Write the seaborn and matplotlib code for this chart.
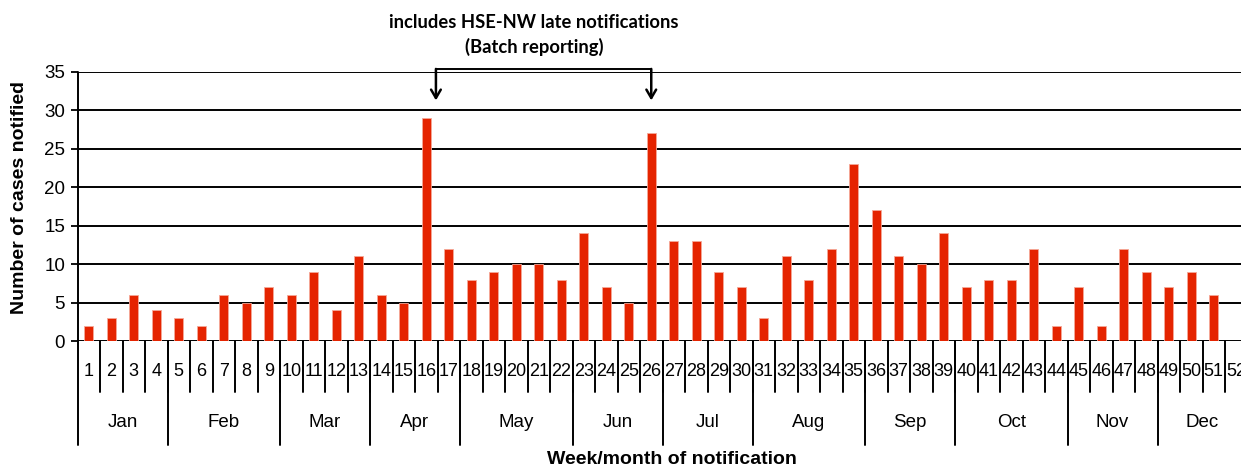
import matplotlib
matplotlib.use("Agg")
import matplotlib.pyplot as plt
import seaborn as sns
import pandas as pd

weeks = list(range(1, 53))
cases = [2, 3, 6, 4, 3, 2, 6, 5, 7, 6, 9, 4, 11, 6, 5, 29, 12, 8, 9, 10,
         10, 8, 14, 7, 5, 27, 13, 13, 9, 7, 3, 11, 8, 12, 23, 17, 11, 10, 14, 7,
         8, 8, 12, 2, 7, 2, 12, 9, 7, 9, 6, 0]
months = ["Jan", "Feb", "Mar", "Apr", "May", "Jun", "Jul", "Aug", "Sep", "Oct", "Nov", "Dec"]
month_last_week = [4, 9, 13, 17, 22, 26, 30, 35, 39, 44, 48, 52]
y_ticks = [0, 5, 10, 15, 20, 25, 30, 35]
batch_weeks = [16, 26]
note_lines = ["includes HSE-NW late notifications", "(Batch reporting)"]

sns.set_style("white")
plt.rcParams["font.family"] = ["Liberation Sans", "DejaVu Sans"]
plt.rcParams["text.color"] = "black"
plt.rcParams["axes.labelcolor"] = "black"
plt.rcParams["xtick.color"] = "black"
plt.rcParams["ytick.color"] = "black"

df = pd.DataFrame({"week": [str(w) for w in weeks], "cases": cases})

fig = plt.figure(figsize=(12.41, 4.68), dpi=100)
W, H = 1241, 468
left_px, right_px, top_px, bot_px = 77.5, 77.5 + 52 * 22.5, 72, 341
ax = fig.add_axes([left_px / W, 1 - bot_px / H, (right_px - left_px) / W, (bot_px - top_px) / H])

sns.barplot(data=df, x="week", y="cases", color="#e52400", width=0.4,
            saturation=1, ax=ax, zorder=3, edgecolor="#f5a898", linewidth=0.6)

ax.set_xlim(-0.5, 51.5)
ax.set_ylim(0, 35)
ax.set_yticks(y_ticks)
ax.set_yticklabels([str(t) for t in y_ticks], fontsize=13.5, color="black")
ax.tick_params(axis="y", length=5, width=1.3, color="black", pad=4, left=True)
ax.set_xticks([])
ax.set_xlabel("")
ax.set_ylabel("")

for y in y_ticks:
    ax.axhline(y, color="black", lw=1.4, zorder=1)

for s in ["top", "right", "bottom", "left"]:
    ax.spines[s].set_visible(False)

fig.text(19.5 / W, 1 - 198 / H, "Number of cases notified", rotation=90, ha="center",
         va="center", fontsize=14, fontweight="bold", color="black")

trans = ax.get_xaxis_transform()
ax.plot([-0.5, -0.5], [1.0, -0.3866], transform=trans, color="black", lw=1.4, clip_on=False)
for i in range(len(weeks)):
    xb = i + 0.5
    ax.plot([xb, xb], [0, -0.1896], transform=trans, color="black", lw=1.4, clip_on=False)
    ax.text(i, -0.1152, str(weeks[i]), transform=trans, ha="center", va="center",
            fontsize=13, clip_on=False, color="black")
prev = 0
for m, last in zip(months, month_last_week):
    xb = last - 0.5
    ax.plot([xb, xb], [0, -0.3866], transform=trans, color="black", lw=1.4, clip_on=False)
    ax.text((prev + last - 1) / 2, -0.3048, m, transform=trans, ha="center", va="center",
            fontsize=13.5, clip_on=False, color="black")
    prev = last

fig.text(672 / W, 1 - 460 / H, "Week/month of notification", ha="center", va="center",
         fontsize=14, fontweight="bold", color="black")

xl = batch_weeks[0] - 1 + 0.43
xr = batch_weeks[1] - 1
ytop = 35.4
ytip = 31.3
ax.plot([xl, xr], [ytop, ytop], color="black", lw=1.4, clip_on=False, zorder=5)
for xa in [xl, xr]:
    ax.annotate("", xy=(xa, ytip), xytext=(xa, ytop),
                arrowprops=dict(arrowstyle="->,head_length=0.6,head_width=0.35",
                                color="black", lw=1.8, shrinkA=0, shrinkB=0),
                annotation_clip=False, zorder=5)

fig.text(534 / W, 1 - 22 / H, note_lines[0], ha="center", va="center",
         fontsize=13.2, fontweight="bold", family=["Lato", "DejaVu Sans"], color="black")
fig.text(534 / W, 1 - 47 / H, note_lines[1], ha="center", va="center",
         fontsize=13.2, fontweight="bold", family=["Lato", "DejaVu Sans"], color="black")

fig.savefig("out.png", dpi=100)
